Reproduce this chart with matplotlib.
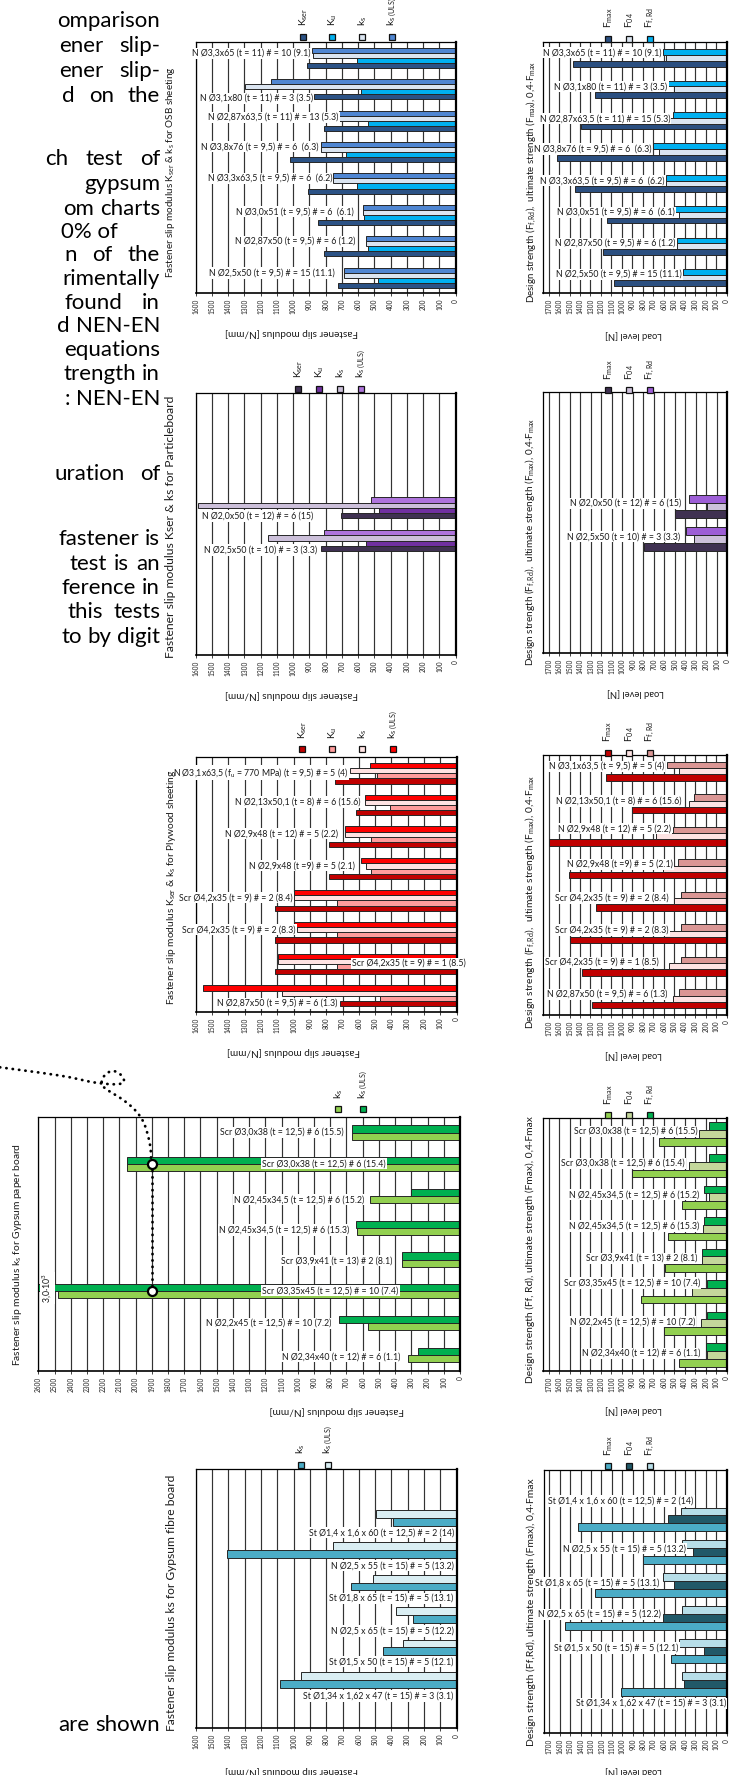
import numpy as np
import matplotlib
matplotlib.use("Agg")
import matplotlib.pyplot as plt
from matplotlib.patches import Rectangle
from matplotlib.lines import Line2D
from matplotlib.transforms import Affine2D

# ---------------------------------------------------------------- data
osb_labels = ["N Ø3,3x65 (t = 11) # = 10 (9.1)", "N Ø3,1x80 (t = 11) # = 3 (3.5)",
              "N Ø2,87x63,5 (t = 11) # = 13 (5.3)", "N Ø3,8x76 (t = 9,5) # = 6  (6.3)",
              "N Ø3,3x63,5 (t = 9,5) # = 6  (6.2)", "N Ø3,0x51 (t = 9,5) # = 6  (6.1)",
              "N Ø2,87x50 (t = 9,5) # = 6 (1.2)", "N Ø2,5x50 (t = 9,5) # = 15 (11.1)"]
osb_labels_f = list(osb_labels)
osb_labels_f[2] = "N Ø2,87x63,5 (t = 11) # = 15 (5.3)"
osb_kser = [913, 870, 812, 1019, 911, 845, 812, 726]
osb_ku = [609, 580, 542, 677, 609, 566, 542, 480]
osb_ks = [880, 1298, 716, 831, 753, 572, 552, 687]
osb_ks_uls = [882, 1138, 716, 831, 753, 572, 552, 687]
osb_fmax = [1462, 1252, 1395, 1621, 1443, 1144, 1182, 1071]
osb_f04 = [581, 499, 556, 645, 578, 458, 477, 423]
osb_ffrd = [610, 556, 515, 705, 578, 496, 477, 416]

pb_labels = ["N Ø2,0x50 (t = 12) # = 6 (15)", "N Ø2,5x50 (t = 10) # = 3 (3.3)"]
pb_kser = [708, 827]
pb_ku = [470, 552]
pb_ks = [1584, 1157]
pb_ks_uls = [521, 812]
pb_fmax = [496, 791]
pb_f04 = [197, 315]
pb_ffrd = [362, 397]

ply_labels = ["N Ø3,1x63,5 (f$_{u}$ = 770 MPa) (t = 9,5) # = 5 (4)",
              "N Ø2,13x50,1 (t = 8) # = 6 (15.6)", "N Ø2,9x48 (t = 12) # = 5 (2.2)",
              "N Ø2,9x48 (t =9) # = 5 (2.1)", "Scr Ø4,2x35 (t = 9) # = 2 (8.4)",
              "Scr Ø4,2x35 (t = 9) # = 2 (8.3)", "Scr Ø4,2x35 (t = 9) # = 1 (8.5)",
              "N Ø2,87x50 (t = 9,5) # = 6 (1.3)"]
ply_labels_f = list(ply_labels)
ply_labels_f[0] = "N Ø3,1x63,5 (t = 9,5) # = 5 (4)"
ply_kser = [748, 617, 785, 785, 1113, 1113, 1113, 713]
ply_ku = [488, 406, 523, 523, 734, 734, 734, 471]
ply_ks = [656, 564, 686, 559, 996, 980, 1098, 1072]
ply_ks_uls = [529, 564, 686, 584, 996, 996, 1098, 1553]
ply_fmax = [1148, 903, 1697, 1506, 1247, 1499, 1381, 1285]
ply_f04 = [456, 357, 670, 606, 501, 600, 549, 510]
ply_ffrd = [568, 309, 510, 469, 437, 437, 437, 453]

gp_labels = ["Scr Ø3,0x38 (t = 12,5) # 6 (15.5)", "Scr Ø3,0x38 (t = 12,5) # 6 (15.4)",
             "N Ø2,45x34,5 (t = 12,5) # 6 (15.2)", "N Ø2,45x34,5 (t = 12,5) # 6 (15.3)",
             "Scr Ø3,9x41 (t = 13) # 2 (8.1)", "Scr Ø3,35x45 (t = 12,5) # = 10 (7.4)",
             "N Ø2,2x45 (t = 12,5) # = 10 (7.2)", "N Ø2,34x40 (t = 12) # = 6 (1.1)"]
gp_ks = [668, 2051, 555, 633, 360, 2477, 569, 319]
gp_ks_uls = [668, 2051, 304, 641, 360, 3000, 744, 257]
gp_fmax = [644, 900, 424, 558, 590, 820, 600, 453]
gp_f04 = [262, 357, 172, 223, 233, 329, 242, 185]
gp_ffrd = [166, 166, 214, 214, 233, 185, 185, 201]
gp_ref_level = 1900

gf_labels = ["St Ø1,4 x 1,6 x 60 (t = 12,5) # = 2 (14)", "N Ø2,5 x 55 (t = 15) # = 5 (13.2)",
             "St Ø1,8 x 65 (t = 15) # = 5 (13.1)", "N Ø2,5 x 65 (t = 15) # = 5 (12.2)",
             "St Ø1,5 x 50 (t = 15) # = 5 (12.1)", "St Ø1,34 x 1,62 x 47 (t = 15) # = 3 (3.1)"]
gf_ks = [391, 1406, 648, 266, 453, 1086]
gf_ks_uls = [492, 758, 512, 371, 328, 957]
gf_fmax = [1429, 804, 1266, 1547, 536, 1014]
gf_f04 = [565, 319, 501, 612, 214, 405]
gf_ffrd = [440, 424, 606, 424, 453, 431]

k_names4 = ["K$_{ser}$", "K$_{u}$", "k$_{s}$", "k$_{s\\ (ULS)}$"]
k_names2 = ["k$_{s}$", "k$_{s\\ (ULS)}$"]
f_names = ["F$_{max}$", "F$_{04}$", "F$_{f,Rd}$"]
ticks_k = list(range(0, 1700, 100))
ticks_k_gp = list(range(0, 2700, 100))
ticks_f = list(range(0, 1800, 100))

# ---------------------------------------------------------------- figure
W, H, DPI = 739, 1775, 100
plt.rcParams["font.family"] = ["Lato", "DejaVu Sans"]
plt.rcParams["mathtext.fontset"] = "custom"
plt.rcParams["mathtext.rm"] = "Lato"
plt.rcParams["mathtext.it"] = "Lato:italic"
plt.rcParams["mathtext.bf"] = "Lato:bold"
plt.rcParams["mathtext.sf"] = "Lato"
plt.rcParams["mathtext.default"] = "regular"

fig = plt.figure(figsize=(W / DPI, H / DPI), dpi=DPI)
fig.patch.set_facecolor("white")
renderer = fig.canvas.get_renderer()
PX = Affine2D().scale(1.0 / W, -1.0 / H).translate(0, 1) + fig.transFigure


def measure(s, size, **kw):
    t = fig.text(0, 0, s, fontsize=size, **kw)
    bb = t.get_window_extent(renderer)
    t.remove()
    return bb.width


def fit(s, length, **kw):
    return 10.0 * length / measure(s, 10.0, **kw)


def axes_px(x0, y0, x1, y1):
    return fig.add_axes([x0 / W, 1 - y1 / H, (x1 - x0) / W, (y1 - y0) / H])


LABEL_FS = fit(osb_labels[0], 118)
EDGE = "#262626"


def bar_panel(box, xmax, ticks, series, colors, labels, n_slots, first_slot, gfrac,
              label_pos, legend_y, legend_x, names, title, title_xy, title_len,
              ylab, ylab_xy, ylab_len):
    ax = axes_px(*box)
    n = len(series)
    h = gfrac / n
    centers = np.arange(len(labels)) + first_slot + 0.5
    for i, vals in enumerate(series):
        t = n - 1 - i
        ys = centers - gfrac / 2 + h * (t + 0.5)
        ax.barh(ys, vals, height=h, color=colors[i], edgecolor=EDGE, linewidth=0.7, zorder=2)
    ax.set_xlim(xmax, 0)
    ax.set_ylim(n_slots, 0)
    ax.set_xticks(ticks)
    ax.set_yticks([])
    ax.grid(axis="x", color="#333333", linewidth=0.85, zorder=0)
    ax.set_axisbelow(True)
    ax.tick_params(axis="x", labelsize=4.7, labelrotation=90, length=2.5, width=0.6,
                   pad=1.5, direction="out", colors="#222222")
    for side, lw in (("right", 1.6), ("bottom", 1.2), ("top", 0.9), ("left", 0.9)):
        ax.spines[side].set_linewidth(lw)
        ax.spines[side].set_color("black")
    for k, (lab, (xv, off, ha)) in enumerate(zip(labels, label_pos)):
        y = centers[k] - gfrac / 2 + h * (0.5 + off)
        ax.text(xv, y, lab, ha=ha, va="center", fontsize=LABEL_FS, color="#1a1a1a",
                zorder=5, clip_on=False,
                bbox=dict(facecolor="white", edgecolor="none", pad=0.8))
    # legend: squares with vertical names above
    for xl, c, nm in zip(legend_x, colors, names):
        fig.add_artist(Rectangle((xl - 3, legend_y + 3), 6, 6, transform=PX, facecolor=c,
                                 edgecolor="#111111", linewidth=0.9))
        fig.text(xl + 0.5, legend_y - 4.5, nm, transform=PX, rotation=90, ha="center",
                 va="bottom", fontsize=7.4, color="#1a1a1a")
    # value axis title (upside down below the tick labels)
    fig.text(title_xy[0], title_xy[1], title, transform=PX, rotation=180, ha="center",
             va="center", fontsize=fit(title, title_len), color="#1a1a1a")
    # panel caption along the left side
    fig.text(ylab_xy[0], ylab_xy[1], ylab, transform=PX, rotation=90, ha="center",
             va="center", fontsize=fit(ylab, ylab_len), color="#1a1a1a")
    return ax, centers, h


K_TITLE = "Fastener slip modulus [N/mm]"
F_TITLE = "Load level [N]"
F_YLAB = "Design strength (F$_{f,Rd}$),  ultimate strength (F$_{max}$), 0,4·F$_{max}$"

# ---- OSB
bar_panel((195.7, 42.3, 455.7, 293.3), 1600, ticks_k,
          [osb_kser, osb_ku, osb_ks, osb_ks_uls],
          ["#2b5285", "#00b0f0", "#dbe5f1", "#4f86d2"], osb_labels, 8, 0, 0.64,
          [(892, 0.57, "right"), (876, 3.3, "right"), (722, 0.83, "right"),
           (845, 0.43, "right"), (759, 0.5, "right"), (626, 0.9, "right"),
           (619, 0.5, "right"), (747, 0.57, "right")],
          30.7, [303, 332.3, 362, 391.7], k_names4, K_TITLE, (291.7, 333), 133,
          "Fastener slip modulus K$_{ser}$ & k$_{s}$ for OSB sheeting", (170.7, 171.7), 210)
bar_panel((543.3, 42.3, 726.7, 293.3), 1750, ticks_f,
          [osb_fmax, osb_f04, osb_ffrd], ["#2b4f80", "#dbe5f1", "#00b0f0"], osb_labels_f,
          8, 0, 0.55,
          [(620, 0.07, "right"), (566, 0.53, "right"), (540, 0.64, "right"),
           (721, 0.47, "right"), (594, 0.53, "right"), (499, 0.53, "right"),
           (486, 0.47, "right"), (432, 0.47, "right")],
          32.7, [608.3, 629, 650], f_names, F_TITLE, (633, 335), 57,
          F_YLAB, (531.7, 181.7), 243)

# ---- Particleboard
bar_panel((195.7, 393.3, 455.7, 655), 1600, ticks_k,
          [pb_kser, pb_ku, pb_ks, pb_ks_uls],
          ["#3f3151", "#7030a0", "#ccc0da", "#ae74dc"], pb_labels, 8, 3, 0.64,
          [(876, 3.05, "right"), (855, 3.3, "right")],
          382.7, [298.3, 319.3, 340, 361], k_names4, K_TITLE, (291.7, 695), 133,
          "Fastener slip modulus Kser & ks for Particleboard", (170.7, 526.7), 263)
bar_panel((543.3, 392.3, 727.3, 653.3), 1750, ticks_f,
          [pb_fmax, pb_f04, pb_ffrd], ["#3f3151", "#ccc0da", "#9d5ed6"], pb_labels,
          8, 3, 0.73,
          [(435, 0.63, "right"), (451, 0.7, "right")],
          384, [608.3, 629, 650], f_names, F_TITLE, (635.7, 693.3), 57,
          F_YLAB, (530.7, 541.7), 247)

# ---- Plywood
bar_panel((195.7, 757.3, 456.7, 1011.7), 1600, ticks_k,
          [ply_kser, ply_ku, ply_ks, ply_ks_uls],
          ["#c00000", "#ff9c9c", "#ffe3e3", "#ff0000"], ply_labels, 8, 0, 0.65,
          [(666, 1.39, "right"), (590, 0.9, "right"), (730, 0.9, "right"),
           (627, 0.97, "right"), (1006, 1.0, "right"), (986, 1.0, "right"),
           (641, 1.4, "left"), (734, 3.0, "right")],
          743.3, [302.3, 332.3, 362.3, 392.7], k_names4, K_TITLE, (293, 1051.7), 133,
          "Fastener slip modulus K$_{ser}$ & k$_{s}$ for Plywood sheeting", (171.7, 887.5), 235)
bar_panel((543.3, 755, 726.7, 1015), 1750, ticks_f,
          [ply_fmax, ply_f04, ply_ffrd], ["#c00000", "#fde3e3", "#da9694"], ply_labels_f,
          8, 0, 0.58,
          [(596, 0.2, "right"), (431, 0.55, "right"), (533, -0.2, "right"),
           (510, 0.3, "right"), (555, 0.5, "right"), (555, 0.4, "right"),
           (648, 0.4, "right"), (565, 0.3, "right")],
          746.7, [607.7, 629, 650], f_names, F_TITLE, (633, 1055), 57,
          F_YLAB, (530.7, 901.7), 253)

# ---- Gypsum paper board
ax_gp, c_gp, h_gp = bar_panel(
    (38.3, 1116.7, 460, 1370.7), 2600, ticks_k_gp,
    [gp_ks, gp_ks_uls], ["#92d050", "#00b050"], gp_labels, 8, 0, 0.45,
    [(719, 0.48, "right"), (456, 0.43, "right"), (590, 1.03, "right"),
     (682, 0.8, "right"), (415, 0.66, "right"), (380, 0.43, "right"),
     (791, 0.52, "right"), (366, 0.76, "right")],
    1103.3, [338.3, 362.7], k_names2, K_TITLE, (336.7, 1410), 135,
    "Fastener slip modulus k$_{s}$ for Gypsum paper board", (17.3, 1254), 222)
bar_panel((543.3, 1118.3, 726.7, 1370.7), 1750, ticks_f,
          [gp_fmax, gp_f04, gp_ffrd], ["#92d050", "#c4d79b", "#00b050"], gp_labels,
          8, 0, 0.74,
          [(281, 0.67, "right"), (399, 0.7, "right"), (265, 0.7, "right"),
           (265, 0.65, "right"), (281, 0.75, "right"), (255, -0.15, "right"),
           (303, 0.8, "right"), (249, 0.8, "right")],
          1109.3, [608.3, 629, 650], f_names, F_TITLE, (633, 1410), 57,
          "Design strength (Ff, Rd), ultimate strength (Fmax), 0,4·Fmax", (530.7, 1250), 267)

# off-scale value of the k_s (ULS) bar
big = int(np.argmax(gp_ks_uls))
ax_gp.text(2545, c_gp[big] - 0.45 / 2 + h_gp * 0.5, "3,0·10$^{3}$", rotation=90, ha="center",
           va="center", fontsize=LABEL_FS, color="#1a1a1a", zorder=5,
           bbox=dict(facecolor="white", edgecolor="none", pad=0.6))

# reference level linking the two long bars
y_top = c_gp[1]
y_bot = c_gp[big]
ax_gp.plot([gp_ref_level, gp_ref_level], [y_top, y_bot], linestyle=(0, (0.1, 2.2)),
           color="black", linewidth=2.0, dash_capstyle="round", zorder=6)
for yy in (y_top, y_bot):
    ax_gp.plot([gp_ref_level], [yy], marker="o", markersize=6.5, markerfacecolor="white",
               markeredgecolor="black", markeredgewidth=1.6, zorder=7)

# dotted pointer coming in from the page text
way = np.array([(0, 1067.3), (33.3, 1071.7), (66.7, 1076.7), (93.3, 1082.3), (115, 1084.3),
                (124, 1081.7), (120, 1074), (112.7, 1071), (106, 1074), (101.7, 1080.7),
                (104, 1087.3), (111.7, 1092.7), (123.3, 1100), (135, 1110), (143.3, 1121.7),
                (148.3, 1136.7), (150.7, 1150), (151, 1161)])
pts = []
P = np.vstack([way[0], way, way[-1]])
for i in range(1, len(P) - 2):
    p0, p1, p2, p3 = P[i - 1], P[i], P[i + 1], P[i + 2]
    for s in np.linspace(0, 1, 12, endpoint=False):
        pts.append(0.5 * ((2 * p1) + (-p0 + p2) * s + (2 * p0 - 5 * p1 + 4 * p2 - p3) * s ** 2
                          + (-p0 + 3 * p1 - 3 * p2 + p3) * s ** 3))
pts.append(way[-1])
pts = np.array(pts)
fig.add_artist(Line2D(pts[:, 0], pts[:, 1], transform=PX, color="black",
                      linewidth=2.0, linestyle=(0, (0.1, 2.2)), dash_capstyle="round"))

# ---- Gypsum fibre board
bar_panel((195.7, 1469.3, 456.7, 1728.3), 1600, ticks_k,
          [gf_ks, gf_ks_uls], ["#4bacc6", "#daeef3"], gf_labels, 8, 1, 0.48,
          [(18, 2.4, "right"), (18, 2.5, "right"), (20, 2.5, "right"),
           (20, 2.55, "right"), (20, 2.35, "right"), (20, 2.6, "right")],
          1459, [300.7, 328.3], k_names2, K_TITLE, (291.7, 1770), 133,
          "Fastener slip modulus ks for Gypsum fibre board", (171.7, 1603), 257)
bar_panel((544, 1470, 726.7, 1733.3), 1750, ticks_f,
          [gf_fmax, gf_f04, gf_ffrd], ["#4bacc6", "#215968", "#b7dee8"], gf_labels,
          8, 1, 0.72,
          [(319, -1.33, "right"), (392, 0.54, "right"), (648, 0.67, "right"),
           (628, 0.54, "right"), (462, 0.63, "right"), (6, 3.46, "right")],
          1460, [608.3, 629, 650], f_names, F_TITLE, (633, 1771.7), 57,
          "Design strength (Ff,Rd), ultimate strength (Fmax), 0,4·Fmax", (531.7, 1612), 266)

# ---------------------------------------------------------------- page text (left column)
BODY_FS = 16.0
page_lines = [
    ("omparison", 21.5, None, 160), ("ener slip-", 46.4, 59, 160), ("ener slip-", 71.3, 59, 160),
    ("d on the", 96.2, 62, 160), ("ch test of", 159.6, 45, 160), ("gypsum", 184.5, None, 160),
    ("om charts", 209.4, 69, 160), ("0% of", 232, None, 118), ("n of the", 255.8, 64.5, 160),
    ("rimentally", 279.5, None, 160), ("found in", 303.3, 64.5, 160),
    ("d NEN-EN", 327, 64.5, 160), ("equations", 350.8, None, 160),
    ("trength in", 374.6, 66, 160), (": NEN-EN", 399.5, 67, 160),
    ("uration of", 474.2, 54, 160), ("fastener is", 539.8, 61, 160),
    ("test is an", 564.7, 69, 160), ("ference in", 588.5, 64.5, 160),
    ("this tests", 612.3, 68, 160), ("to by digit", 637.1, 62, 160),
    ("are shown", 1725.8, 66, 160),
]
space_w = measure("a a", BODY_FS) - measure("aa", BODY_FS)
for text, yc, left, right in page_lines:
    base = yc + 5.5
    words = text.split(" ")
    if left is None or len(words) == 1:
        fig.text(right, base, text, transform=PX, ha="right", va="baseline",
                 fontsize=BODY_FS, color="black")
        continue
    widths = [measure(w, BODY_FS) for w in words]
    gap = max((right - left - sum(widths)) / (len(words) - 1), space_w)
    x = right - sum(widths) - gap * (len(words) - 1)
    for w, wd in zip(words, widths):
        fig.text(x, base, w, transform=PX, ha="left", va="baseline", fontsize=BODY_FS,
                 color="black")
        x += wd + gap

fig.savefig("out.png", dpi=DPI, facecolor="white")
